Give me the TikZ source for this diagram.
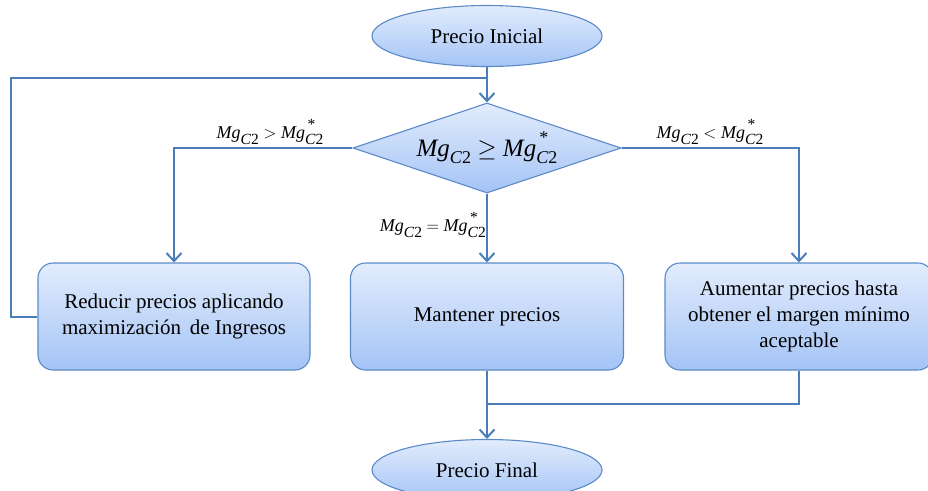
\documentclass[tikz,border=0pt]{standalone}
\usepackage{fontspec}
\setmainfont{Liberation Serif}
\usetikzlibrary{shapes.geometric,arrows.meta}

\definecolor{edge}{HTML}{5B8AC8}
\definecolor{wire}{HTML}{4A7EBB}
\definecolor{filltop}{HTML}{E2ECFC}
\definecolor{fillbot}{HTML}{A4C4F6}

% margin symbols; the argument is the size of the index in pt
\newcommand{\idx}[1]{\fontsize{#1}{#1}\selectfont}
\newcommand{\mgc}[1]{\textit{Mg}\raisebox{-0.3em}{\idx{#1}\textit{C}2}}
\newcommand{\mgcs}[1]{\textit{Mg}\makebox[0pt][l]{\raisebox{0.5em}{\idx{#1}\,*}}\raisebox{-0.3em}{\idx{#1}\textit{C}2}}

\tikzset{
  shade box/.style={draw=edge, line width=1.1pt, top color=filltop, bottom color=fillbot,
    inner sep=0pt, align=center},
  terminal/.style={shade box, ellipse, minimum width=230pt, minimum height=61pt,
    font=\fontsize{21}{24}\selectfont},
  decision/.style={shade box, diamond, aspect=2.98, minimum width=268pt, minimum height=90pt,
    font=\fontsize{25}{30}\selectfont},
  process/.style={shade box, rounded corners=15pt, minimum height=107pt,
    font=\fontsize{21}{26}\selectfont},
  wireline/.style={draw=wire, line width=2pt},
  flow/.style={wireline, -{Straight Barb[length=8pt,width=15pt,line width=2pt]}},
  cond/.style={font=\fontsize{18}{21}\selectfont, inner sep=1pt}
}

\begin{document}
\begin{tikzpicture}[x=1pt,y=-1pt]
  \clip (0,0) rectangle (928,490);
  \useasboundingbox (0,0) rectangle (928,490);

  % nodes
  \node[terminal] (start) at (487,36) {Precio Inicial};
  \node[decision] (test) at (487,148) {\mgc{18}\ $\geq$ \mgcs{18}};
  \node[process, minimum width=272pt] (reduce) at (174,316.5)
    {Reducir precios aplicando\\maximización\, de Ingresos};
  \node[process, minimum width=273pt] (keep) at (487,316.5) {Mantener precios};
  \node[process, minimum width=268pt] (raise) at (799,316.5)
    {Aumentar precios hasta\\obtener el margen mínimo\\aceptable};
  \node[terminal] (final) at (487,470) {Precio Final};

  % junction points
  \coordinate (loopin) at (487,78);
  \coordinate (merge) at (487,404);

  % connectors
  \draw[flow] (start.south) -- (test.north);
  \draw[wireline] (reduce.west) -- ++(-26,0) |- (loopin);
  \draw[flow] (test.west) -| (reduce.north);
  \draw[flow] (test.east) -| (raise.north);
  \draw[flow] (test.south) -- (keep.north);
  \draw[flow] (keep.south) -- (final.north);
  \draw[wireline] (raise.south) |- (merge);

  % branch conditions
  \node[cond] (gt) at (270,132) {\mgc{15.5}\ $>$ \mgcs{15.5}};
  \node[cond] (lt) at (710,132) {\mgc{15.5}\ $<$ \mgcs{15.5}};
  \node[cond, anchor=east] (eq) at (487,225) {\mgc{15.5}\ $=$ \mgcs{15.5}};
\end{tikzpicture}
\end{document}
